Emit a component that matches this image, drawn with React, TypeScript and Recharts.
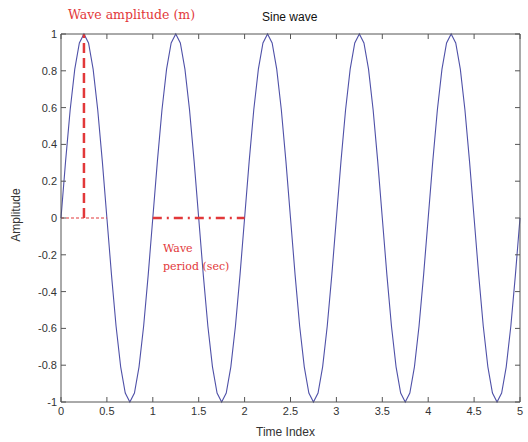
import { LineChart, Line, XAxis, YAxis, ReferenceLine } from "recharts";

// time samples (s) and sine amplitude
const time = [
  0, 0.05, 0.1, 0.15, 0.2, 0.25, 0.3, 0.35, 0.4, 0.45,
  0.5, 0.55, 0.6, 0.65, 0.7, 0.75, 0.8, 0.85, 0.9, 0.95,
  1, 1.05, 1.1, 1.15, 1.2, 1.25, 1.3, 1.35, 1.4, 1.45,
  1.5, 1.55, 1.6, 1.65, 1.7, 1.75, 1.8, 1.85, 1.9, 1.95,
  2, 2.05, 2.1, 2.15, 2.2, 2.25, 2.3, 2.35, 2.4, 2.45,
  2.5, 2.55, 2.6, 2.65, 2.7, 2.75, 2.8, 2.85, 2.9, 2.95,
  3, 3.05, 3.1, 3.15, 3.2, 3.25, 3.3, 3.35, 3.4, 3.45,
  3.5, 3.55, 3.6, 3.65, 3.7, 3.75, 3.8, 3.85, 3.9, 3.95,
  4, 4.05, 4.1, 4.15, 4.2, 4.25, 4.3, 4.35, 4.4, 4.45,
  4.5, 4.55, 4.6, 4.65, 4.7, 4.75, 4.8, 4.85, 4.9, 4.95,
  5,
];

const amplitude = [
  0, 0.309, 0.588, 0.809, 0.951, 1, 0.951, 0.809, 0.588, 0.309,
  0, -0.309, -0.588, -0.809, -0.951, -1, -0.951, -0.809, -0.588, -0.309,
  0, 0.309, 0.588, 0.809, 0.951, 1, 0.951, 0.809, 0.588, 0.309,
  0, -0.309, -0.588, -0.809, -0.951, -1, -0.951, -0.809, -0.588, -0.309,
  0, 0.309, 0.588, 0.809, 0.951, 1, 0.951, 0.809, 0.588, 0.309,
  0, -0.309, -0.588, -0.809, -0.951, -1, -0.951, -0.809, -0.588, -0.309,
  0, 0.309, 0.588, 0.809, 0.951, 1, 0.951, 0.809, 0.588, 0.309,
  0, -0.309, -0.588, -0.809, -0.951, -1, -0.951, -0.809, -0.588, -0.309,
  0, 0.309, 0.588, 0.809, 0.951, 1, 0.951, 0.809, 0.588, 0.309,
  0, -0.309, -0.588, -0.809, -0.951, -1, -0.951, -0.809, -0.588, -0.309,
  0,
];

const xTicks = [0, 0.5, 1, 1.5, 2, 2.5, 3, 3.5, 4, 4.5, 5];
const yTicks = [-1, -0.8, -0.6, -0.4, -0.2, 0, 0.2, 0.4, 0.6, 0.8, 1];

// annotation segments (data units)
const amplitudeMark = { x: 0.25, from: 0, to: 1 };
const zeroGuide = { from: 0, to: 0.5 };
const periodMark = { from: 1, to: 2 };

const data = time.map((t, i) => ({ t, amp: amplitude[i] }));

const AXIS = "#555";
const TEXT = "#333";
const RED = "#e2383a";
const BLUE = "#4f51a8";

const BottomTick = (props: any) => {
  const { x, y, payload } = props;
  return (
    <g>
      <line x1={x} x2={x} y1={y} y2={y - 5} stroke={AXIS} />
      <text x={x} y={y + 13} textAnchor="middle" fontSize={11} fill={TEXT} fontFamily="Liberation Sans, Arial">
        {payload.value}
      </text>
    </g>
  );
};

const LeftTick = (props: any) => {
  const { x, y, payload } = props;
  return (
    <g>
      <line x1={x} x2={x + 5} y1={y} y2={y} stroke={AXIS} />
      <text x={x - 4} y={y + 4} textAnchor="end" fontSize={11} fill={TEXT} fontFamily="Liberation Sans, Arial">
        {payload.value}
      </text>
    </g>
  );
};

const TopTick = (props: any) => {
  const { x, y } = props;
  return <line x1={x} x2={x} y1={y} y2={y + 5} stroke={AXIS} />;
};

const RightTick = (props: any) => {
  const { x, y } = props;
  return <line x1={x} x2={x - 5} y1={y} y2={y} stroke={AXIS} />;
};

const note = (left: number, top: number, extra: any) => ({
  position: "absolute" as const,
  left,
  top,
  lineHeight: 1,
  whiteSpace: "nowrap" as const,
  ...extra,
});

export default function App() {
  return (
    <div style={{ position: "relative", width: 528, height: 442, background: "#fff" }}>
      <style>{"body{margin:0}"}</style>
      <LineChart width={528} height={442} data={data} margin={{ top: 33, right: 7, bottom: 0, left: 0 }}>
        <XAxis
          dataKey="t"
          type="number"
          domain={[0, 5]}
          ticks={xTicks}
          height={40}
          tickSize={0}
          tickMargin={0}
          tick={<BottomTick />}
          stroke={AXIS}
          interval={0}
        />
        <XAxis
          xAxisId="top"
          orientation="top"
          dataKey="t"
          type="number"
          domain={[0, 5]}
          ticks={xTicks}
          height={1}
          tickSize={0}
          tickMargin={0}
          tick={<TopTick />}
          stroke={AXIS}
          interval={0}
        />
        <YAxis
          type="number"
          domain={[-1, 1]}
          ticks={yTicks}
          width={61}
          tickSize={0}
          tickMargin={0}
          tick={<LeftTick />}
          stroke={AXIS}
          interval={0}
        />
        <YAxis
          yAxisId="right"
          orientation="right"
          type="number"
          domain={[-1, 1]}
          ticks={yTicks}
          width={1}
          tickSize={0}
          tickMargin={0}
          tick={<RightTick />}
          stroke={AXIS}
          interval={0}
        />
        {/* invisible series so the top and right frame axes are drawn */}
        <Line
          xAxisId="top"
          yAxisId="right"
          type="linear"
          dataKey="amp"
          stroke="none"
          dot={false}
          isAnimationActive={false}
        />
        <Line
          type="linear"
          dataKey="amp"
          stroke={BLUE}
          strokeWidth={1.1}
          dot={false}
          isAnimationActive={false}
        />
        <ReferenceLine
          segment={[
            { x: zeroGuide.from, y: 0 },
            { x: zeroGuide.to, y: 0 },
          ]}
          stroke={RED}
          strokeWidth={1.2}
          strokeDasharray="3 2"
        />
        <ReferenceLine
          segment={[
            { x: amplitudeMark.x, y: amplitudeMark.from },
            { x: amplitudeMark.x, y: amplitudeMark.to },
          ]}
          stroke={RED}
          strokeWidth={2.5}
          strokeDasharray="10 5"
        />
        <ReferenceLine
          segment={[
            { x: periodMark.from, y: 0 },
            { x: periodMark.to, y: 0 },
          ]}
          stroke={RED}
          strokeWidth={2.5}
          strokeDasharray="9 5 2 5"
        />
      </LineChart>
      <div style={note(68, 9, { color: RED, fontFamily: "DejaVu Serif", fontSize: 12.5 })}>Wave amplitude (m)</div>
      <div style={note(262, 11, { color: "#111", fontFamily: "Liberation Sans, Arial", fontSize: 12 })}>Sine wave</div>
      <div style={note(163, 243, { color: RED, fontFamily: "DejaVu Serif", fontSize: 11 })}>Wave</div>
      <div style={note(163, 261, { color: RED, fontFamily: "DejaVu Serif", fontSize: 11 })}>period (sec)</div>
      <div style={note(256, 426, { color: TEXT, fontFamily: "Liberation Sans, Arial", fontSize: 12 })}>Time Index</div>
      <div
        style={note(-12, 209, {
          color: TEXT,
          fontFamily: "Liberation Sans, Arial",
          fontSize: 12,
          transform: "rotate(-90deg)",
          width: 56,
          textAlign: "center",
        })}
      >
        Amplitude
      </div>
    </div>
  );
}
